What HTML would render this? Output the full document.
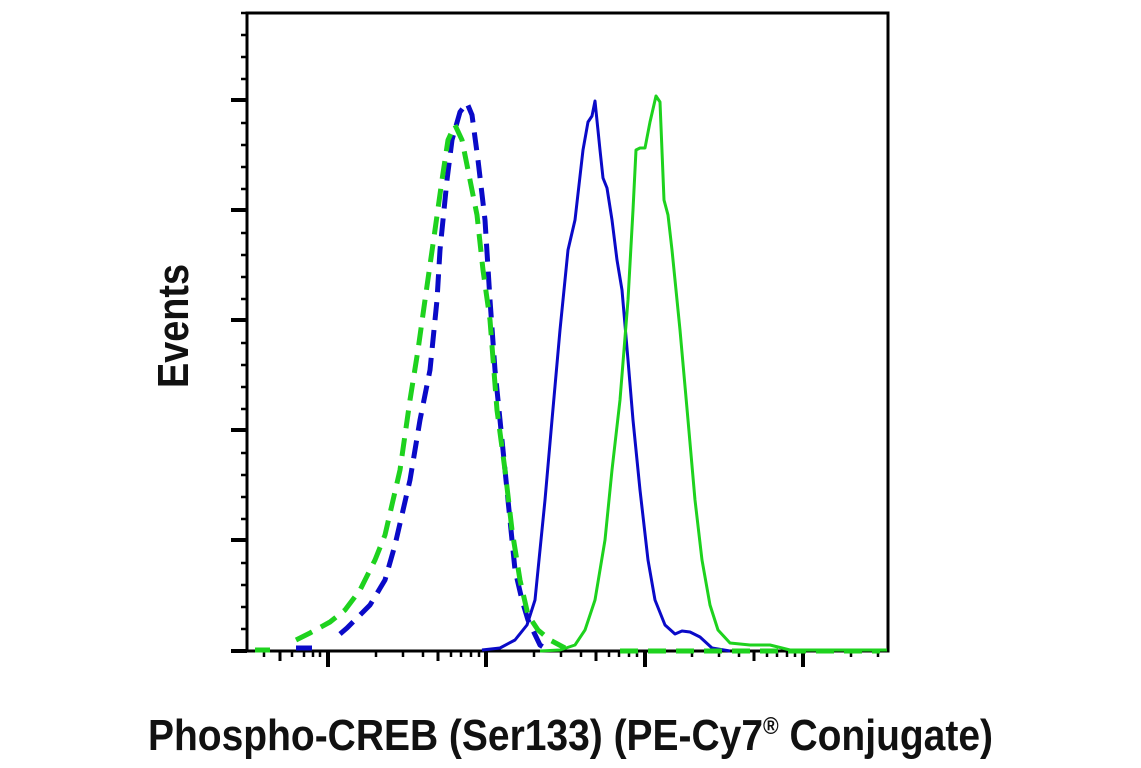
<!DOCTYPE html>
<html><head><meta charset="utf-8"><style>html,body{margin:0;padding:0;background:#fff}svg{display:block}</style></head>
<body>
<svg width="1141" height="768" viewBox="0 0 1141 768" xmlns="http://www.w3.org/2000/svg">
<rect width="1141" height="768" fill="#fff"/>
<g stroke="#000" stroke-width="2.5">
<path d="M241 35H247M241 57H247M241 79H247M241 123H247M241 145H247M241 167H247M241 189H247M241 233H247M241 255H247M241 277H247M241 299H247M241 343H247M241 365H247M241 387H247M241 409H247M241 453H247M241 475H247M241 497H247M241 519H247M241 563H247M241 585H247M241 607H247M241 629H247M241 13H247"/>
<path stroke-width="4" d="M231 100H247M231 210H247M231 320H247M231 430H247M231 540H247M231 651H247"/>
<path d="M264 651V657M292 651V657M304 651V657M313 651V657M320 651V657M376 651V657M403 651V657M423 651V657M451 651V657M461 651V657M471 651V657M479 651V657M534 651V657M561 651V657M581 651V657M609 651V657M619 651V657M629 651V657M637 651V657M692 651V657M719 651V657M739 651V657M767 651V657M777 651V657M787 651V657M795 651V657M851 651V657M878 651V657"/>
<path stroke-width="3" d="M280 651V661M438 651V661M596 651V661M754 651V661"/>
<path stroke-width="4" d="M328 651V667M486 651V667M645 651V667M803 651V667"/>
</g>
<rect x="247" y="13" width="641" height="638" fill="none" stroke="#000" stroke-width="3"/>
<g fill="none" stroke-linejoin="round">
<path stroke="#0a0ac8" stroke-width="3" d="M482 650L500 648L515 640L527 625L535 600L545 500L552 420L560 330L568 250L575 220L583 150L588 122L592 116L595 101L600 150L603 178L607 188L612 220L617 260L622 290L628 360L633 420L640 490L648 560L655 600L665 625L675 634L682 631L690 632L700 637L712 648L730 651"/>
<path stroke="#1ed21e" stroke-width="3" d="M540 651L560 650L575 645L585 630L595 600L605 540L612 470L620 400L628 300L633 210L636 150L640 148L645 148L650 122L656 96L660 102L664 200L668 215L672 250L680 330L688 420L695 500L702 560L710 605L718 630L730 643L750 645L770 645L790 650L887 650"/>
<path stroke="#0a0ac8" stroke-width="5" stroke-dasharray="18 10" d="M296 648L312 648M340 634L347 628L355 620L370 605L385 580L395 545L410 480L420 420L430 370L437 300L440 250L447 180L452 140L460 112L467 103L472 115L478 160L485 220L490 300L495 370L500 420L505 470L510 520L515 570L522 600L528 620L540 645L548 650"/>
<path stroke="#1ed21e" stroke-width="5" stroke-dasharray="18 10" d="M255 650L270 650M296 640L310 633L330 622L345 610L360 590L375 560L385 535L400 470L410 400L418 350L425 300L435 230L442 180L448 140L455 125L462 140L470 180L477 215L483 270L490 320L497 410L505 470L512 530L520 580L528 615L538 630L550 640L565 648M620 651L880 651"/>
</g>
<text x="0" y="0" transform="translate(188 388) rotate(-90)" font-family="Liberation Sans, sans-serif" font-weight="bold" font-size="44" textLength="124" lengthAdjust="spacingAndGlyphs" fill="#111">Events</text>
<text x="148" y="750" font-family="Liberation Sans, sans-serif" font-weight="bold" font-size="44" textLength="845" lengthAdjust="spacingAndGlyphs" fill="#111">Phospho-CREB (Ser133) (PE-Cy7<tspan font-size="24" dy="-16">®</tspan><tspan dy="16"> Conjugate)</tspan></text>
</svg>
</body></html>
